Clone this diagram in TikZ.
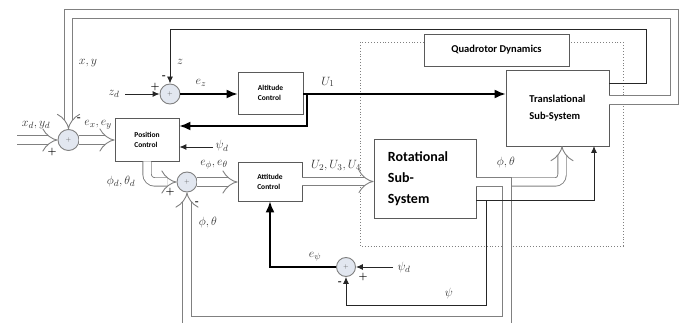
\documentclass[tikz,border=0pt]{standalone}
\usepackage{fontspec}
\setsansfont{Carlito}
\usetikzlibrary{arrows.meta}
\definecolor{lgray}{HTML}{808080}
\definecolor{bgray}{HTML}{5A5A5A}
\definecolor{sumfill}{HTML}{E2E7F0}
\tikzset{
  blockbox/.style={draw=bgray, line width=0.8pt, fill=white, font=\sffamily\bfseries, align=left, inner sep=0pt},
  sumnode/.style={circle, draw=lgray, fill=sumfill, minimum size=20pt, inner sep=0pt, line width=0.9pt, font=\fontsize{6}{6}\selectfont\color{bgray}},
  dbl/.style={draw=lgray, line width=0.9pt, double=white, double distance=7.5pt},
  dblarrow/.style={dbl, -{Implies}},
  thk/.style={line width=1.8pt, -{Latex[length=11pt,width=9pt]}},
  thn/.style={line width=0.9pt, draw=black!85, -{Latex[length=7pt,width=6pt]}},
  mlab/.style={font=\fontsize{13}{14}\selectfont, inner sep=0pt, text=black!80},
  sgn/.style={font=\fontsize{10}{10}\selectfont\bfseries, inner sep=0pt},
}
\begin{document}
\begin{tikzpicture}[x=1pt,y=-1pt]
\useasboundingbox (0,0) rectangle (698,323);
% dotted frame
\draw[lgray, dotted, line width=0.9pt] (360,42) rectangle (623,246);
% blocks
\node[blockbox, minimum width=145pt, minimum height=32pt, align=center, font=\sffamily\bfseries\fontsize{10.5}{12}\selectfont] (qd) at (496.5,50) {Quadrotor Dynamics};
\node[blockbox, minimum width=64pt, minimum height=43pt, font=\sffamily\bfseries\fontsize{7.5}{10}\selectfont] (pos) at (147,139.5) {Position\\Control};
\node[blockbox, minimum width=65pt, minimum height=42pt, font=\sffamily\bfseries\fontsize{7.5}{10}\selectfont] (alt) at (270.5,93) {Altitude\\Control};
\node[blockbox, minimum width=64pt, minimum height=39pt, font=\sffamily\bfseries\fontsize{7.5}{10}\selectfont] (att) at (270,181.5) {Attitude\\Control};
\node[blockbox, minimum width=102pt, minimum height=79pt, font=\sffamily\bfseries\fontsize{14}{21}\selectfont] (rot) at (425,178.5) {Rotational\hspace*{14pt}\\Sub-\\System};
\node[blockbox, minimum width=103pt, minimum height=76pt, font=\sffamily\bfseries\fontsize{10.5}{17}\selectfont] (trans) at (557.5,108) {Translational\\Sub-System};
% summing junctions
\node[sumnode, minimum size=21pt] (s1) at (68.5,140) {+};
\node[sumnode] (sz) at (170,94) {+};
\node[sumnode] (sa) at (187,182) {+};
\node[sumnode, minimum size=19pt] (sp) at (346,267) {+};
% coordinates
\coordinate (xin) at (17,140);
\coordinate (zdin) at (125,94);
\coordinate (psdin) at (213,147);
\coordinate (psdin2) at (393,267);
\coordinate (tz) at (609,83);
\coordinate (zr) at (646,29);
\coordinate (txy) at (609,100);
\coordinate (xyr) at (674.5,14);
\coordinate (br) at (307,94);
\coordinate (brd) at (307,126);
\coordinate (tin) at (562,146);
\coordinate (fb1) at (507,321);
\coordinate (r3) at (476,200);
\coordinate (t3) at (594,146);
\coordinate (pd) at (486,200);
\coordinate (pdb) at (486,305);
\coordinate (ep) at (270,267);
% double-line connectors
\draw[dblarrow] (xin) -- (s1.west);
\draw[dblarrow] (s1.east) -- (s1.east -| pos.west);
\draw[dblarrow] (txy) -| (xyr) -| (s1.north);
\draw[dblarrow, rounded corners=8pt] (pos.south) |- (sa.west);
\draw[dblarrow] (sa.east) -- (sa.east -| att.west);
\draw[dblarrow] (att.east) -- (att.east -| rot.west);
\draw[dblarrow, rounded corners=7pt] (rot.east |- sa.center) -| (tin);
\draw[dblarrow] (rot.east |- sa.center) -| (fb1) -| (sa.south);
% single lines
\draw[thn] (tz) -| (zr) -| (sz.north);
\draw[thn] (zdin) -- (sz.west);
\draw[thk] (sz.east) -- (alt.west |- sz.east);
\draw[thk] (alt.east |- br) -- (br -| trans.west);
\draw[thk] (br) -- (brd) -- (brd -| pos.east);
\draw[thn] (psdin) -- (psdin -| pos.east);
\draw[thn] (r3) -| (t3);
\draw[thn] (pd) -- (pdb) -| (sp.south);
\draw[thn] (psdin2) -- (sp.east);
\draw[thk] (sp.west) -| (att.south);
% labels
\node[mlab] (lxd) at (36,125) {$x_d, y_d$};
\node[mlab] (lex) at (98,125) {$e_x, e_y$};
\node[mlab] (lxy) at (88,63) {$x, y$};
\node[mlab] (lz) at (180,62) {$z$};
\node[mlab] (lzd) at (114,94) {$z_d$};
\node[mlab] (lez) at (201,83) {$e_z$};
\node[mlab] (lu1) at (328,82) {$U_1$};
\node[mlab] (lpsd) at (222,146) {$\psi_d$};
\node[mlab] (lphd) at (121,181) {$\phi_d, \theta_d$};
\node[mlab] (leph) at (214,165) {$e_\phi, e_\theta$};
\node[mlab] (lpt1) at (208,222) {$\phi, \theta$};
\node[mlab] (lu2) at (336,166) {$U_2, U_3, U_4$};
\node[mlab] (lpt2) at (506,163) {$\phi, \theta$};
\node[mlab] (leps) at (315,257) {$e_\psi$};
\node[mlab] (lpsd2) at (404,267) {$\psi_d$};
\node[mlab] (lps) at (449,293) {$\psi$};
% signs
\node[sgn] (g1) at (79,119) {-};
\node[sgn] (g2) at (52,152) {+};
\node[sgn] (g3) at (164,77) {-};
\node[sgn] (g4) at (155,87) {+};
\node[sgn] (g5) at (170,192) {+};
\node[sgn] (g6) at (197,203) {-};
\node[sgn] (g7) at (340,283) {-};
\node[sgn] (g8) at (363,277) {+};
\end{tikzpicture}
\end{document}
